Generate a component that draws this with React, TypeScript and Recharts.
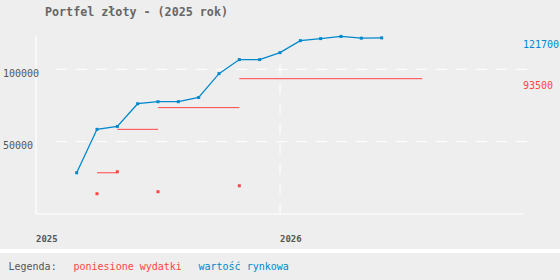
import { ComposedChart, Line, ReferenceLine, Scatter, XAxis, YAxis } from "recharts";

// months counted from Jan 2025 (0) ... Jan 2027 (24)
const valueMonths = [2, 3, 4, 5, 6, 7, 8, 9, 10, 11, 12, 13, 14, 15, 16, 17];
const marketValue = [
  28500, 58500, 60500, 76200, 77600, 77600, 80500, 97000, 106700, 106700, 111500, 119800, 121200, 122700,
  121500, 121700,
];

const expenseMonths = [3, 4, 6, 10];
const expenseAmounts = [14000, 29200, 15400, 19500];

const spentFrom = [3, 4, 6, 10];
const spentTo = [4, 6, 10, 19];
const spentLevels = [28500, 58500, 73500, 93500];

const yearTicks = [0, 12];
const yearLabels = ["2025", "2026"];
const valueTicks = [50000, 100000];

const BLUE = "#0088cc";
const RED = "#ff4444";
const GREY = "#555555";
const BG = "#eeeeee";
const MONO = "'DejaVu Sans Mono', monospace";

const marketData = valueMonths.map((m, i) => ({ m, v: marketValue[i] }));
const expenseData = expenseMonths.map((m, i) => ({ m, v: expenseAmounts[i] }));
const spentSegments = spentLevels.map((v, i) => [
  { m: spentFrom[i], v },
  { m: spentTo[i], v },
]);

const square = (color: string) => (p: any) =>
  p.cx == null ? null : (
    <rect key={p.key ?? `sq-${p.index}`} x={p.cx - 1.5} y={p.cy - 1.5} width={3} height={3} fill={color} />
  );

const edgeLabel = (color: string) => (p: any) => {
  const vb = p.viewBox || {};
  return (
    <text x={vb.x + vb.width - 1} y={vb.y + 10} fill={color} fontSize={10} fontFamily={MONO}>
      {p.value}
    </text>
  );
};

// dashed white grid line, starting a little right of the axis
const gridShape = (p: any) => (
  <line x1={p.x1 + 20} y1={p.y1} x2={p.x2 + 3} y2={p.y2} stroke="#ffffff" strokeDasharray="11 9" />
);

export default function App() {
  return (
    <div style={{ position: "absolute", left: 0, top: 0, width: 560, height: 280, background: "#ffffff" }}>
      <div style={{ position: "absolute", left: 0, top: 0, width: 560, height: 249, background: BG }}>
        <ComposedChart width={560} height={249} margin={{ top: 36, right: 36, bottom: 5, left: 0 }}>
          <XAxis
            dataKey="m"
            type="number"
            domain={[0, 24]}
            ticks={yearTicks}
            height={30}
            axisLine={{ stroke: "#ffffff", strokeWidth: 1.2 }}
            tickLine={false}
            tick={(p: any) => (
              <text
                key={`xt-${p.index}`}
                x={p.x}
                y={p.y + 20}
                textAnchor="start"
                fill={GREY}
                fontSize={9}
                fontWeight="bold"
                fontFamily={MONO}
              >
                {yearLabels[yearTicks.indexOf(p.payload.value)]}
              </text>
            )}
          />
          <YAxis
            dataKey="v"
            type="number"
            domain={[0, 123000]}
            ticks={valueTicks}
            width={36}
            axisLine={{ stroke: "#ffffff", strokeWidth: 1.2 }}
            tickLine={false}
            tick={(p: any) => (
              <text key={`yt-${p.index}`} x={3} y={p.y + 7.5} fill={GREY} fontSize={10} fontFamily={MONO}>
                {p.payload.value}
              </text>
            )}
          />
          {valueTicks.map((t) => (
            <ReferenceLine key={`g-${t}`} y={t} shape={gridShape} />
          ))}
          <ReferenceLine
            segment={[
              { x: 12, y: 0 },
              { x: 12, y: 104300 },
            ]}
            stroke="#ffffff"
            strokeDasharray="11 9"
          />
          {spentSegments.map((seg, i) => (
            <Line
              key={`spent-${i}`}
              data={seg}
              dataKey="v"
              type="linear"
              stroke={RED}
              strokeWidth={1}
              dot={false}
              isAnimationActive={false}
            />
          ))}
          <Scatter data={expenseData} dataKey="v" fill={RED} shape={square(RED)} isAnimationActive={false} />
          <Line
            data={marketData}
            dataKey="v"
            type="linear"
            stroke={BLUE}
            strokeWidth={1.3}
            dot={square(BLUE)}
            isAnimationActive={false}
          />
          <ReferenceLine
            y={marketValue[marketValue.length - 1]}
            strokeOpacity={0}
            label={{ value: String(marketValue[marketValue.length - 1]), content: edgeLabel(BLUE) }}
          />
          <ReferenceLine
            y={spentLevels[spentLevels.length - 1]}
            strokeOpacity={0}
            label={{ value: String(spentLevels[spentLevels.length - 1]), content: edgeLabel(RED) }}
          />
        </ComposedChart>
        <svg width={560} height={36} style={{ position: "absolute", left: 0, top: 0, pointerEvents: "none" }}>
          <text x={45} y={15.5} fill="#666666" fontSize={11.7} fontWeight="bold" fontFamily={MONO}>
            Portfel złoty - (2025 rok)
          </text>
        </svg>
      </div>
      <svg width={560} height={27} style={{ position: "absolute", left: 0, top: 253, background: BG }}>
        <text y={17} fontSize={10} fontFamily={MONO}>
          <tspan x={8.5} fill={GREY}>
            Legenda:
          </tspan>
          <tspan x={73.5} fill={RED}>
            poniesione wydatki
          </tspan>
          <tspan x={198.5} fill={BLUE}>
            wartość rynkowa
          </tspan>
        </text>
      </svg>
    </div>
  );
}
